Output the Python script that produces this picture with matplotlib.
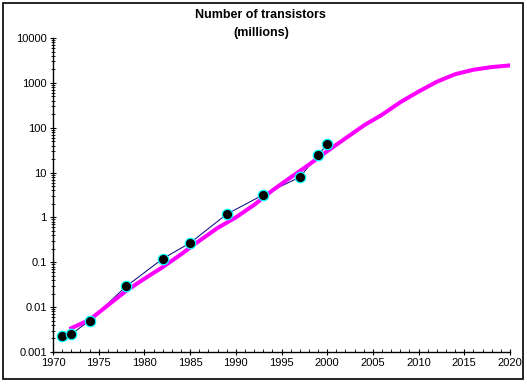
import matplotlib.pyplot as plt
from matplotlib.patches import Rectangle
from matplotlib.ticker import FixedLocator, FixedFormatter, LogLocator, MultipleLocator, NullFormatter

plt.rcParams['font.family'] = ['Liberation Sans', 'DejaVu Sans']

# Intel processors (millions of transistors)
chip_years = [1971, 1972, 1974, 1978, 1982, 1985, 1989, 1993, 1997, 1999, 2000]
chip_counts = [0.0023, 0.0025, 0.005, 0.029, 0.12, 0.27, 1.18, 3.2, 7.9, 24.5, 43]

# trend curve
trend_years = [1972, 1974, 1976, 1978, 1980, 1982, 1984, 1986, 1988, 1990,
               1992, 1994, 1996, 1998, 2000, 2002, 2004, 2006, 2008, 2010,
               2012, 2014, 2016, 2018, 2020]
trend_counts = [0.0034, 0.0052, 0.011, 0.023, 0.043, 0.078, 0.15, 0.30, 0.58, 1.0,
                1.9, 4.0, 7.8, 15, 30, 58, 112, 195, 370, 640,
                1060, 1560, 1960, 2250, 2450]

y_ticks = [0.001, 0.01, 0.1, 1, 10, 100, 1000, 10000]
y_labels = ['0.001', '0.01', '0.1', '1', '10', '100', '1000', '10000']
x_ticks = list(range(1970, 2021, 5))

fig = plt.figure(figsize=(5.27, 3.84), dpi=100)
ax = fig.add_axes([53 / 527, 32 / 384, 457 / 527, 314 / 384])

ax.plot(chip_years, chip_counts, color='#000080', lw=0.7, zorder=2)
ax.plot(trend_years, trend_counts, color='#ff00ff', lw=2.9, zorder=3)
ax.plot(chip_years, chip_counts, ls='none', marker='o', ms=7.5,
        mfc='black', mec='#00ffff', mew=0.9, zorder=4)

ax.set_yscale('log')
ax.set_xlim(1970, 2020)
ax.set_ylim(0.001, 10000)
ax.yaxis.set_major_locator(FixedLocator(y_ticks))
ax.yaxis.set_major_formatter(FixedFormatter(y_labels))
ax.yaxis.set_minor_locator(LogLocator(base=10, subs=range(2, 10), numticks=20))
ax.yaxis.set_minor_formatter(NullFormatter())
ax.xaxis.set_major_locator(FixedLocator(x_ticks))
ax.xaxis.set_minor_locator(MultipleLocator(1))

ax.spines['top'].set_visible(False)
ax.spines['right'].set_visible(False)
for s in ('left', 'bottom'):
    ax.spines[s].set_linewidth(1.0)
ax.tick_params(which='major', direction='inout', length=5, width=0.8, labelsize=8, pad=2)
ax.tick_params(axis='y', which='minor', direction='inout', length=3, width=0.6)
ax.tick_params(axis='x', which='minor', direction='in', length=2.5, width=0.6)

fig.text(0.495, 0.961, 'Number of transistors', ha='center', va='center',
         fontsize=9, fontweight='bold')
fig.text(0.495, 0.913, '(millions)', ha='center', va='center',
         fontsize=9, fontweight='bold')

fig.patches.append(Rectangle((3 / 527, 5 / 384), 520 / 527, 376 / 384,
                             transform=fig.transFigure, fill=False,
                             edgecolor='black', lw=1.2))

fig.savefig('out.png', dpi=100)
